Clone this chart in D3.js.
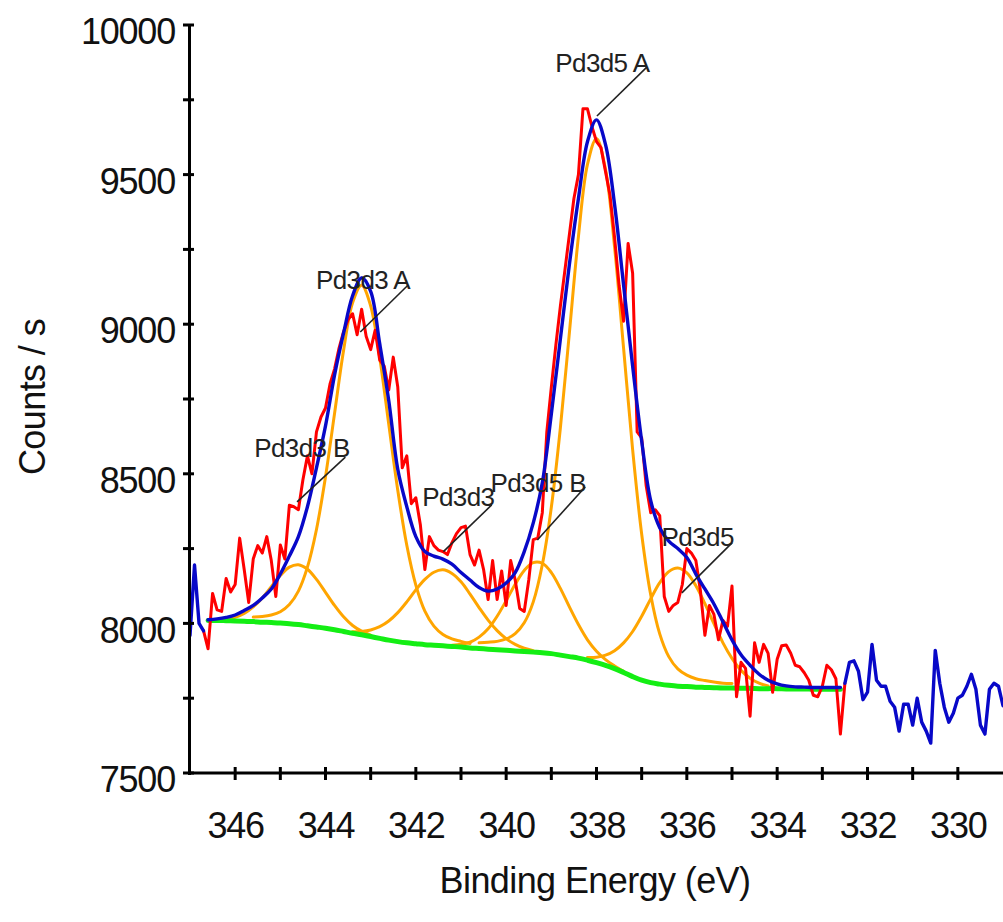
<!DOCTYPE html>
<html>
<head>
<meta charset="utf-8">
<script src="https://cdn.jsdelivr.net/npm/d3@7"></script>
<style>
  html, body { margin: 0; padding: 0; background: #ffffff; }
  svg { display: block; }
  text { font-family: "Liberation Sans", Arial, Helvetica, sans-serif; }
</style>
</head>
<body>
<svg id="chart" width="1003" height="922"></svg>
<script>
// ---- Pd 3d XPS spectrum: raw counts, 0.1 eV steps from 347.0 eV down to 329.0 eV ----
const spectrumStart = 347.0;
const spectrumStep = 0.1;
const spectrumCounts = [
  7960, 8195, 8000, 7975, 7915, 8100, 8045, 8040, 8150, 8105,
  8130, 8285, 8180, 8070, 8215, 8260, 8235, 8290, 8210, 8090,
  8262, 8215, 8395, 8390, 8380, 8480, 8560, 8500, 8640, 8690,
  8720, 8800, 8850, 8920, 8975, 9015, 9035, 8965, 9050, 8960,
  8915, 8980, 8880, 8860, 8780, 8890, 8790, 8520, 8560, 8400,
  8420, 8330, 8180, 8290, 8260, 8245, 8240, 8230, 8270, 8300,
  8320, 8325, 8230, 8195, 8245, 8180, 8080, 8210, 8080, 8175,
  8060, 8210, 8145, 8050, 8040, 8145, 8280, 8285, 8370, 8640,
  8790, 8930, 9060, 9180, 9300, 9420, 9500, 9720, 9720, 9660,
  9610, 9590, 9510, 9430, 9290, 9130, 9010, 9270, 9170, 8640,
  8620, 8460, 8370, 8380, 8360, 8090, 8040, 8060, 8070, 8130,
  8250, 8235, 8210, 8110, 7960, 8060, 8030, 7945, 8010, 7990,
  8125, 7755, 7870, 7850, 7690, 7935, 7870, 7930, 7900, 7770,
  7880, 7925, 7928, 7900, 7860, 7855, 7835, 7810, 7760, 7755,
  7790, 7860, 7845, 7815, 7630, 7800, 7870, 7875, 7840, 7745,
  7770, 7930, 7810, 7790, 7790, 7740, 7720, 7640, 7730, 7730,
  7660, 7750, 7670, 7640, 7600, 7910, 7800, 7720, 7670, 7700,
  7750, 7760, 7790, 7830, 7780, 7660, 7630, 7780, 7800, 7790,
  7725
];
// energy window used for the peak fit (high, low)
const fitRegion = [346.7, 332.5];

// ---- fit curves, 0.2 eV steps ----
const fitStart = 346.6;
const fitStep = 0.2;
// Shirley background
const backgroundCounts = [
  8010, 8010, 8009, 8008, 8007, 8006, 8004, 8003, 8001, 7999,
  7996, 7992, 7988, 7984, 7979, 7973, 7967, 7962, 7956, 7950,
  7944, 7939, 7935, 7932, 7929, 7927, 7925, 7923, 7921, 7918,
  7916, 7914, 7912, 7910, 7908, 7906, 7904, 7902, 7899, 7894,
  7889, 7884, 7877, 7869, 7860, 7849, 7836, 7822, 7810, 7802,
  7797, 7793, 7790, 7789, 7787, 7786, 7785, 7784, 7784, 7783,
  7783, 7782, 7782, 7782, 7781, 7781, 7781, 7780, 7780, 7780,
  7780
];
// fitted envelope
const envelopeCounts = [
  8012, 8015, 8020, 8028, 8043, 8060, 8085, 8115, 8165, 8225,
  8290, 8390, 8520, 8660, 8830, 8970, 9095, 9155, 9110, 8935,
  8745, 8515, 8390, 8290, 8240, 8225, 8215, 8198, 8170, 8145,
  8120, 8108, 8115, 8135, 8170, 8240, 8336, 8470, 8700, 8950,
  9200, 9420, 9610, 9683, 9600, 9400, 9130, 8860, 8610, 8410,
  8320, 8275, 8250, 8220, 8165, 8115, 8065, 8005, 7945, 7895,
  7860, 7830, 7810, 7798, 7791, 7788, 7787, 7786, 7786, 7786,
  7786
];

// ---- fitted components (background included), 0.2 eV steps ----
const pd3d3BStart = 346.2;
const pd3d3BCounts = [
  8014, 8020, 8033, 8055, 8085, 8123, 8160, 8188, 8196, 8181,
  8147, 8104, 8060, 8022, 7993, 7974, 7961
];
const pd3d3AStart = 345.6;
const pd3d3ACounts = [
  8021, 8023, 8028, 8039, 8063, 8108, 8188,
  8314, 8490, 8701, 8912, 9072, 9130, 9061, 8889, 8666, 8445,
  8261, 8128, 8041, 7991, 7963, 7948, 7940, 7933
];
const pd3d3Start = 343.4;
const pd3d3Counts = [
  7972, 7973, 7978, 7989, 8008, 8036, 8072, 8112, 8147, 8171,
  8179, 8167, 8139, 8098, 8053, 8011, 7976, 7949, 7930, 7917,
  7909
];
const pd3d5BStart = 341.2;
const pd3d5BCounts = [
  7927, 7930, 7937, 7954, 7982, 8024, 8076, 8131, 8177, 8203,
  8201, 8170, 8117, 8055, 7996, 7945, 7907, 7879, 7858, 7840
];
const pd3d5AStart = 340.6;
const pd3d5ACounts = [
  7935, 7937, 7940, 7948, 7966, 8002, 8072, 8196,
  8388, 8653, 8972, 9293, 9534, 9621, 9517, 9258, 8919, 8581,
  8299, 8096, 7965, 7889, 7848, 7827, 7815, 7809, 7804, 7800,
  7799
];
const pd3d5Start = 338.2;
const pd3d5Counts = [
  7886, 7887, 7894, 7909, 7935, 7973, 8024, 8082, 8136, 8173,
  8185, 8169, 8126, 8066, 7999, 7935, 7883, 7843, 7817, 7800,
  7791
];

// ---- axis ticks ----
const xTickValues = d3.range(346, 329, -1);
const xTickLabels = [346, 344, 342, 340, 338, 336, 334, 332, 330];
const yTickValues = [7500, 7750, 8000, 8250, 8500, 8750, 9000, 9250, 9500, 9750, 10000];
const yTickLabels = [7500, 8000, 8500, 9000, 9500, 10000];

// ---- peak labels: text anchor and leader line, in (eV, counts) ----
const peakLabels = [
  { text: "Pd3d5 A", at: [337.87, 9843], from: [336.88, 9860], to: [337.99, 9696] },
  { text: "Pd3d3 A", at: [343.17, 9118], from: [342.17, 9131], to: [343.23, 8974] },
  { text: "Pd3d3 B", at: [344.52, 8556], from: [343.56, 8556], to: [344.63, 8406] },
  { text: "Pd3d3",   at: [341.06, 8392], from: [340.32, 8396], to: [341.39, 8240] },
  { text: "Pd3d5 B", at: [339.29, 8439], from: [338.25, 8456], to: [339.31, 8279] },
  { text: "Pd3d5",   at: [335.76, 8259], from: [335.00, 8269], to: [336.11, 8102] }
];

// ---- helpers ----
const toPoints = (start, step, counts) =>
  counts.map((c, i) => ({ e: +(start - i * step).toFixed(2), c }));

const spectrum = toPoints(spectrumStart, spectrumStep, spectrumCounts);
const inFit = d => d.e <= fitRegion[0] + 1e-6 && d.e >= fitRegion[1] - 1e-6;
const spectrumFit = spectrum.filter(inFit);
const spectrumLeft = spectrum.filter(d => d.e >= fitRegion[0] - 1e-6);
const spectrumRight = spectrum.filter(d => d.e <= fitRegion[1] + 1e-6);

const background = toPoints(fitStart, fitStep, backgroundCounts);
const envelope = toPoints(fitStart, fitStep, envelopeCounts);
const components = [
  toPoints(pd3d3BStart, fitStep, pd3d3BCounts),
  toPoints(pd3d3AStart, fitStep, pd3d3ACounts),
  toPoints(pd3d3Start, fitStep, pd3d3Counts),
  toPoints(pd3d5BStart, fitStep, pd3d5BCounts),
  toPoints(pd3d5AStart, fitStep, pd3d5ACounts),
  toPoints(pd3d5Start, fitStep, pd3d5Counts)
];

// ---- layout ----
const svg = d3.select("#chart");
const x = d3.scaleLinear().domain([347, 329]).range([190, 1003]);
const y = d3.scaleLinear().domain([7500, 10000]).range([773, 25]);
const axisX = 189, axisY = 773;

const raw = d3.line().x(d => x(d.e)).y(d => y(d.c));
const smooth = d3.line().x(d => x(d.e)).y(d => y(d.c)).curve(d3.curveCatmullRom.alpha(0.5));

const plot = svg.append("g").attr("fill", "none").attr("stroke-linejoin", "round").attr("stroke-linecap", "round");

// components
plot.selectAll("path.component")
  .data(components)
  .join("path")
  .attr("class", "component")
  .attr("d", smooth)
  .attr("stroke", "#ffa500")
  .attr("stroke-width", 3);

// background
plot.append("path").datum(background)
  .attr("d", smooth)
  .attr("stroke", "#14ee14")
  .attr("stroke-width", 5);

// raw data inside the fit window
plot.append("path").datum(spectrumFit)
  .attr("d", raw)
  .attr("stroke", "#ff0000")
  .attr("stroke-width", 3);

// raw data outside the fit window
[spectrumLeft, spectrumRight].forEach(part => {
  plot.append("path").datum(part)
    .attr("d", raw)
    .attr("stroke", "#0808c8")
    .attr("stroke-width", 3.4);
});

// envelope
plot.append("path").datum(envelope)
  .attr("d", smooth)
  .attr("stroke", "#0808c8")
  .attr("stroke-width", 3.4);

// peak labels
const labels = svg.append("g");
labels.selectAll("line")
  .data(peakLabels)
  .join("line")
  .attr("x1", d => x(d.from[0])).attr("y1", d => y(d.from[1]))
  .attr("x2", d => x(d.to[0])).attr("y2", d => y(d.to[1]))
  .attr("stroke", "#222")
  .attr("stroke-width", 1.6);
labels.selectAll("text")
  .data(peakLabels)
  .join("text")
  .attr("x", d => x(d.at[0]))
  .attr("y", d => y(d.at[1]))
  .attr("text-anchor", "middle")
  .attr("font-size", 26)
  .attr("letter-spacing", "-0.6px")
  .attr("fill", "#222")
  .text(d => d.text);

// ---- axes ----
const yAxis = svg.append("g")
  .attr("transform", `translate(${axisX},0)`)
  .call(d3.axisLeft(y).tickValues(yTickLabels).tickSize(0).tickPadding(14).tickFormat(d3.format("d")));
yAxis.select(".domain").attr("stroke", "#000").attr("stroke-width", 3).attr("stroke-linecap", "square");
yAxis.selectAll("text")
  .attr("font-size", 36)
  .attr("letter-spacing", "-1.2px")
  .attr("fill", "#111")
  .attr("dy", "0.52em");

svg.append("g").selectAll("line")
  .data(yTickValues)
  .join("line")
  .attr("x1", axisX - 6).attr("x2", axisX + 5)
  .attr("y1", d => y(d)).attr("y2", d => y(d))
  .attr("stroke", "#000").attr("stroke-width", 3);

const xAxis = svg.append("g")
  .attr("transform", `translate(0,${axisY})`)
  .call(d3.axisBottom(x).tickValues(xTickLabels).tickSize(0).tickPadding(39).tickFormat(d3.format("d")));
xAxis.select(".domain").attr("stroke", "#000").attr("stroke-width", 3)
  .attr("d", `M${axisX},0H1003`);
xAxis.selectAll("text")
  .attr("font-size", 36)
  .attr("letter-spacing", "-1.2px")
  .attr("fill", "#111");

svg.append("g").selectAll("line")
  .data(xTickValues)
  .join("line")
  .attr("x1", d => x(d)).attr("x2", d => x(d))
  .attr("y1", axisY - 6).attr("y2", axisY + 7)
  .attr("stroke", "#000").attr("stroke-width", 3);

// axis titles
svg.append("text")
  .attr("x", 595).attr("y", 893)
  .attr("text-anchor", "middle")
  .attr("font-size", 36)
  .attr("letter-spacing", "-0.6px")
  .attr("fill", "#111")
  .text("Binding Energy (eV)");

svg.append("text")
  .attr("transform", "translate(45,397) rotate(-90)")
  .attr("text-anchor", "middle")
  .attr("font-size", 36)
  .attr("letter-spacing", "-0.6px")
  .attr("fill", "#111")
  .text("Counts / s");
</script>
</body>
</html>
